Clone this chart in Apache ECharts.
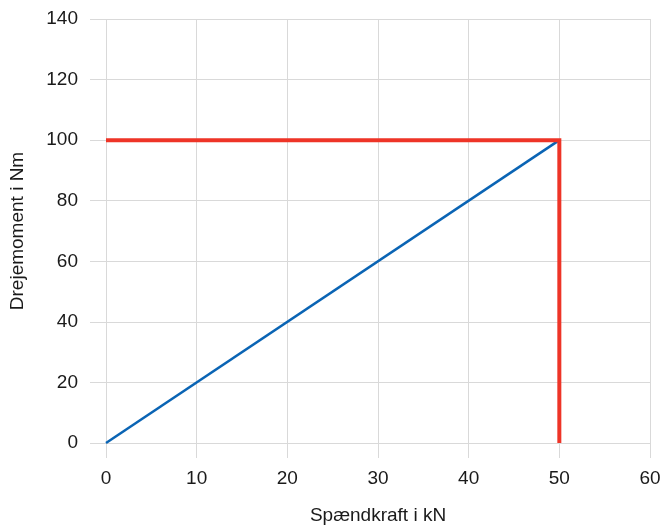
<!DOCTYPE html>
<html>
<head>
<meta charset="utf-8">
<script src="https://cdn.jsdelivr.net/npm/echarts@6/dist/echarts.min.js"></script>
<style>
  html, body { margin: 0; padding: 0; background: #fff; }
  #chart { width: 662px; height: 528px; }
</style>
</head>
<body>
<div id="chart"></div>
<script>
// data
var xTicks = [0, 10, 20, 30, 40, 50, 60];
var yTicks = [0, 20, 40, 60, 80, 100, 120, 140];
var torqueLine = [[0, 0], [50, 100]];      // blue line
var limitLine = [[0, 100], [50, 100], [50, 0]]; // red limit

var fontName = "'Liberation Sans Narrow', 'Arial Narrow', 'Liberation Sans', sans-serif";
var gridGray = '#d9d9d9';
var textColor = '#1a1a1a';

var chart = echarts.init(document.getElementById('chart'));

chart.setOption({
    animation: false,
    grid: { left: 106, right: 12, top: 19, bottom: 85, outerBoundsMode: 'none', containLabel: false },
    xAxis: {
        type: 'value',
        min: xTicks[0],
        max: xTicks[xTicks.length - 1],
        interval: 10,
        name: 'Spændkraft i kN',
        nameLocation: 'middle',
        nameGap: 63,
        nameTextStyle: { fontFamily: fontName, fontSize: 19, color: textColor },
        axisLine: { show: false },
        axisTick: { show: true, length: 15, lineStyle: { color: gridGray } },
        axisLabel: { fontFamily: fontName, fontSize: 19, color: textColor, margin: 26 },
        splitLine: { show: true, lineStyle: { color: gridGray, width: 1 } }
    },
    yAxis: {
        type: 'value',
        min: yTicks[0],
        max: yTicks[yTicks.length - 1],
        interval: 20,
        name: 'Drejemoment i Nm',
        nameLocation: 'middle',
        nameGap: 79,
        nameTextStyle: { fontFamily: fontName, fontSize: 19, color: textColor },
        axisLine: { show: false },
        axisTick: { show: true, length: 16, lineStyle: { color: gridGray } },
        axisLabel: { fontFamily: fontName, fontSize: 19, color: textColor, margin: 28 },
        splitLine: { show: true, lineStyle: { color: gridGray, width: 1 } }
    },
    series: [
        {
            type: 'line',
            data: torqueLine,
            symbol: 'none',
            lineStyle: { color: '#0a64b4', width: 2.5 },
            z: 2
        },
        {
            type: 'line',
            data: limitLine,
            symbol: 'none',
            lineStyle: { color: '#ee3427', width: 4, join: 'miter', cap: 'butt' },
            z: 3
        }
    ]
});
</script>
</body>
</html>
